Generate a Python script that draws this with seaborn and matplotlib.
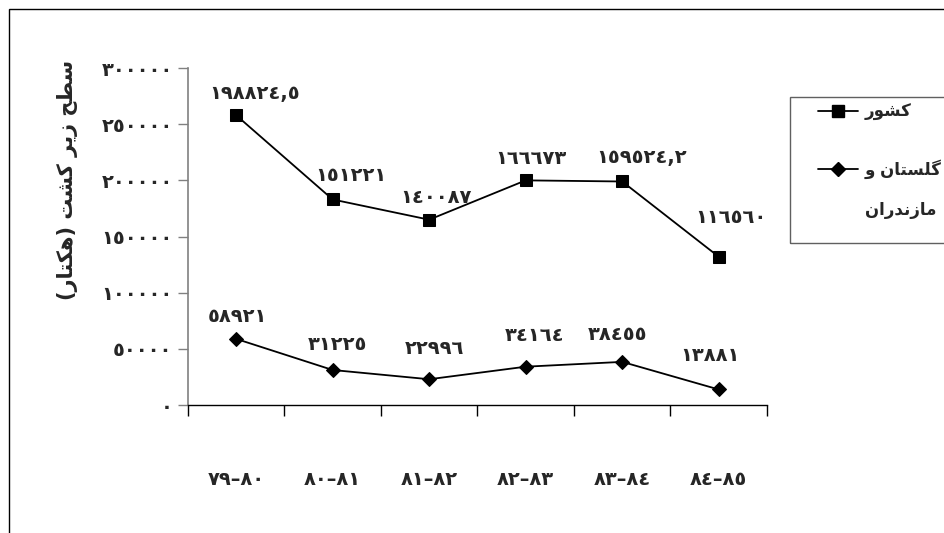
import matplotlib
matplotlib.use('Agg')
import matplotlib.pyplot as plt
from matplotlib.patches import Rectangle
from matplotlib.lines import Line2D
import seaborn as sns
import pandas as pd

# Data
periods = ['٧٩–٨٠', '٨٠–٨١', '٨١–٨٢', '٨٢–٨٣', '٨٣–٨٤', '٨٤–٨٥']
country = [258000, 183000, 165000, 200000, 199000, 132000]
country_labels = ['١٩٨٨٢٤,٥', '١٥١٢٢١', '١٤٠٠٨٧', '١٦٦٦٧٣', '١٥٩٥٢٤,٢', '١١٦٥٦٠']
golestan = [58921, 31225, 22996, 34164, 38455, 13881]
golestan_labels = ['٥٨٩٢١', '٣١٢٢٥', '٢٢٩٩٦', '٣٤١٦٤', '٣٨٤٥٥', '١٣٨٨١']
yticks = [0, 50000, 100000, 150000, 200000, 250000, 300000]
ytick_labels = ['٠', '٥٠٠٠٠', '١٠٠٠٠٠', '١٥٠٠٠٠', '٢٠٠٠٠٠', '٢٥٠٠٠٠', '٣٠٠٠٠٠']

# Minimal Arabic/Persian shaping (matplotlib has no complex text layout)
FORMS = {
    'ا': ('\uFE8D', '\uFE8E', None, None), 'د': ('\uFEA9', '\uFEAA', None, None),
    'ر': ('\uFEAD', '\uFEAE', None, None), 'ز': ('\uFEAF', '\uFEB0', None, None),
    'و': ('\uFEED', '\uFEEE', None, None),
    'س': ('\uFEB1', '\uFEB2', '\uFEB3', '\uFEB4'), 'ش': ('\uFEB5', '\uFEB6', '\uFEB7', '\uFEB8'),
    'ط': ('\uFEC1', '\uFEC2', '\uFEC3', '\uFEC4'), 'ح': ('\uFEA1', '\uFEA2', '\uFEA3', '\uFEA4'),
    'ت': ('\uFE95', '\uFE96', '\uFE97', '\uFE98'), 'ن': ('\uFEE5', '\uFEE6', '\uFEE7', '\uFEE8'),
    'ل': ('\uFEDD', '\uFEDE', '\uFEDF', '\uFEE0'), 'م': ('\uFEE1', '\uFEE2', '\uFEE3', '\uFEE4'),
    'ه': ('\uFEE9', '\uFEEA', '\uFEEB', '\uFEEC'), 'ی': ('\uFBFC', '\uFBFD', '\uFBFE', '\uFBFF'),
    'ک': ('\uFB8E', '\uFB8F', '\uFB90', '\uFB91'), 'گ': ('\uFB92', '\uFB93', '\uFB94', '\uFB95'),
}


def shape(text):
    out = []
    for i, ch in enumerate(text):
        if ch not in FORMS:
            out.append(ch)
            continue
        iso, fin, ini, med = FORMS[ch]
        prev = text[i - 1] if i > 0 else ''
        nxt = text[i + 1] if i + 1 < len(text) else ''
        join_prev = prev in FORMS and FORMS[prev][2] is not None
        join_next = ini is not None and nxt in FORMS
        if join_prev and join_next:
            out.append(med)
        elif join_prev:
            out.append(fin)
        elif join_next:
            out.append(ini)
        else:
            out.append(iso)
    vis = ''.join(reversed(out))
    return vis.translate(str.maketrans('()', ')('))


sns.set_style('white')
plt.rcParams['font.family'] = ['DejaVu Sans']
plt.rcParams['font.weight'] = 'bold'

df1 = pd.DataFrame({'x': range(len(periods)), 'y': country})
df2 = pd.DataFrame({'x': range(len(periods)), 'y': golestan})

fig = plt.figure(figsize=(9.44, 5.33), dpi=100)
ax = fig.add_axes([0.199, 0.240, 0.6135, 0.6324])

sns.lineplot(data=df1, x='x', y='y', ax=ax, color='black', marker='s', markersize=8,
             markeredgecolor='black', linewidth=1.3)
sns.lineplot(data=df2, x='x', y='y', ax=ax, color='black', marker='D', markersize=7,
             markeredgecolor='black', linewidth=1.3)

# data labels
c_off = [(18, 22), (18, 24), (7, 22), (5, 22), (19, 24), (12, 39)]
g_off = [(1, 22), (5, 25), (5, 31), (9, 31), (-5, 27), (-9, 34)]
for i in range(len(periods)):
    ax.annotate(country_labels[i], (i, country[i]), xytext=c_off[i],
                textcoords='offset pixels', ha='center', va='center', fontsize=14, fontweight='bold')
    ax.annotate(golestan_labels[i], (i, golestan[i]), xytext=g_off[i],
                textcoords='offset pixels', ha='center', va='center', fontsize=14, fontweight='bold')

ax.set_xlim(-0.5, len(periods) - 0.5)
ax.set_ylim(0, 300000)
ax.set_xticks([k - 0.5 for k in range(len(periods) + 1)])
ax.set_xticklabels([])
ax.set_xticks(range(len(periods)), minor=True)
ax.set_xticklabels(periods, minor=True, fontsize=14, fontweight='bold')
ax.tick_params(axis='x', which='major', direction='out', length=8, width=1, color='black', bottom=True)
ax.tick_params(axis='x', which='minor', length=0, pad=47)
ax.set_yticks(yticks)
ax.set_yticklabels(ytick_labels, fontsize=14, fontweight='bold')
ax.tick_params(axis='y', direction='out', length=7, width=1, color='#808080', left=True, pad=4)

for s in ['top', 'right']:
    ax.spines[s].set_visible(False)
ax.spines['left'].set_color('#808080')
ax.spines['left'].set_linewidth(1.2)
ax.spines['bottom'].set_color('black')
ax.spines['bottom'].set_linewidth(1)

ax.set_xlabel('')
ax.set_ylabel(shape('سطح زیر کشت (هکتار)'), fontsize=15, fontweight='bold')
ax.yaxis.set_label_coords(-0.19, 0.668)

# outer frame and legend box
fig.add_artist(Rectangle((9 / 944, -0.1), 1.2, 1.1 - 9 / 533, transform=fig.transFigure,
                         fill=False, edgecolor='black', linewidth=1))
fig.add_artist(Rectangle((790 / 944, 1 - 243 / 533), 0.3, 146 / 533, transform=fig.transFigure,
                         fill=False, edgecolor='#606060', linewidth=1))
h1 = Line2D([], [], color='black', marker='s', markersize=8, linewidth=1.3)
h2 = Line2D([], [], color='black', marker='D', markersize=7, linewidth=1.3)
leg = fig.legend([h1, h2], [shape('کشور'), shape('گلستان و')],
                 loc='upper left', bbox_to_anchor=(803 / 944, 1 - 88 / 533),
                 frameon=False, handlelength=2.4, handletextpad=0.4, labelspacing=2.3,
                 prop={'size': 12, 'weight': 'bold'})
fig.text(865 / 944, 1 - 210 / 533, shape('مازندران'), fontsize=12, fontweight='bold',
         ha='left', va='center')

fig.savefig('out.png', dpi=100, facecolor='white')
